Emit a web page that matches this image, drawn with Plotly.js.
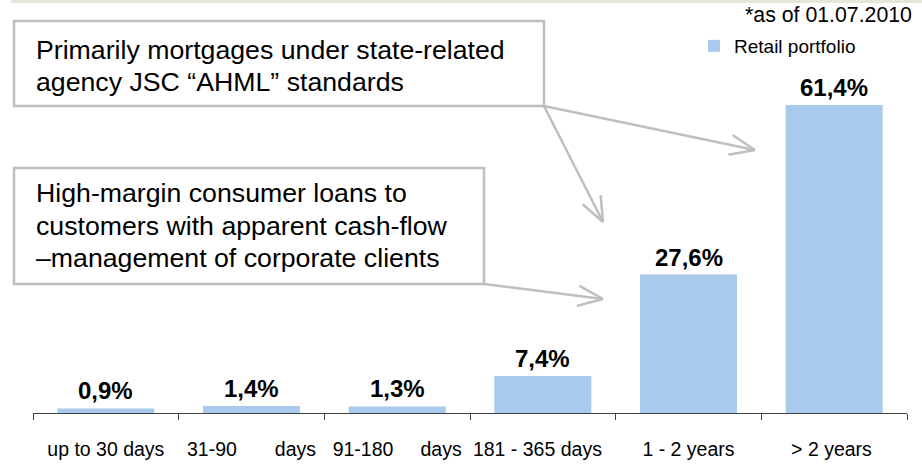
<!DOCTYPE html>
<html><head><meta charset="utf-8">
<script src="https://cdn.plot.ly/plotly-3.0.1.min.js"></script>
<style>html,body{margin:0;padding:0;background:#fff}#chart{width:922px;height:466px}</style>
</head><body><div id="chart"></div>
<script>
const NB = '\u00A0';
const categories = ['up to 30 days','31-90 days','91-180 days','181 - 365 days','1 - 2 years','> 2 years'];
const tickLabels = ['up to 30 days','31-90'+NB.repeat(7)+'days','91-180'+NB.repeat(5)+'days','181 - 365 days'+NB.repeat(2),'1 - 2 years','> 2 years'+NB];
const values = [0.9, 1.4, 1.3, 7.4, 27.6, 61.4];
const seriesName = 'Retail portfolio';
const dateNote = '*as of 01.07.2010';
const box1Lines = ['Primarily mortgages under state-related','agency JSC \u201CAHML\u201D standards'];
const box2Lines = ['High-margin consumer loans to','customers with apparent cash-flow','\u2013management of corporate clients'];

const FONT = 'Liberation Sans, Arial, sans-serif';
const M = {l:33, r:15, t:40, b:53};
const PW = 922 - M.l - M.r, PH = 466 - M.t - M.b;
const px = x => (x - M.l) / PW;
const py = y => (466 - M.b - y) / PH;
const GRAY = '#bfbfbf';

const shapes = [];
// top band
shapes.push({type:'rect', xref:'paper', yref:'paper', x0:px(11), x1:px(922), y0:py(0), y1:py(3), fillcolor:'#e6e6da', line:{width:0}, layer:'above'});
// boxes
function box(x0,y0,x1,y1){shapes.push({type:'rect', xref:'paper', yref:'paper', x0:px(x0), x1:px(x1), y0:py(y1), y1:py(y0), line:{color:GRAY, width:2.5}, fillcolor:'rgba(255,255,255,0)'});}
box(14,21,544,106);
box(14,168,484,284);
function arrow(x0,y0,x1,y1){
  shapes.push({type:'line', xref:'paper', yref:'paper', x0:px(x0), y0:py(y0), x1:px(x1), y1:py(y1), line:{color:GRAY, width:2.5}});
  const th = Math.atan2(y1-y0, x1-x0), phi = 22*Math.PI/180, L = 27;
  [th+phi, th-phi].forEach(a => {
    shapes.push({type:'line', xref:'paper', yref:'paper', x0:px(x1), y0:py(y1), x1:px(x1 - L*Math.cos(a)), y1:py(y1 - L*Math.sin(a)), line:{color:GRAY, width:2.5}});
  });
}
arrow(544,106,755,150);
arrow(544,106,603,222);
arrow(484,284,603,299);

const annotations = [];
values.forEach((v,i) => {
  annotations.push({xref:'x', yref:'y', x:categories[i], y:v, yanchor:'bottom', yshift:2, showarrow:false,
    text:'<b>'+v.toFixed(1).replace('.',',')+'%</b>', font:{family:FONT, size:24, color:'#000'}});
});
const box1Y = [50, 82], box2Y = [193, 226, 258];
box1Lines.forEach((t,i) => annotations.push({xref:'paper', yref:'paper', x:px(34), y:py(box1Y[i]), xanchor:'left', yanchor:'middle', showarrow:false, text:t, font:{family:FONT, size:26.7, color:'#000'}}));
box2Lines.forEach((t,i) => annotations.push({xref:'paper', yref:'paper', x:px(34), y:py(box2Y[i]), xanchor:'left', yanchor:'middle', showarrow:false, text:t, font:{family:FONT, size:26.7, color:'#000'}}));
annotations.push({xref:'paper', yref:'paper', x:px(914), y:py(14.5), xanchor:'right', yanchor:'middle', showarrow:false, text:dateNote, font:{family:FONT, size:21.3, color:'#000'}});

const trace = {type:'bar', x:categories, y:values, name:seriesName, marker:{color:'#a9c9ed'}, showlegend:true, hoverinfo:'skip'};

const layout = {
  width:922, height:466, margin:M, paper_bgcolor:'#fff', plot_bgcolor:'#fff',
  bargap:0.334, showlegend:true,
  font:{family:FONT, color:'#000'},
  legend:{x:px(694), xanchor:'left', y:py(46), yanchor:'middle', font:{family:FONT, size:19, color:'#000'}, bgcolor:'rgba(0,0,0,0)', itemwidth:30, borderwidth:0},
  xaxis:{type:'category', tickvals:categories, ticktext:tickLabels, tickson:'boundaries', ticks:'outside', ticklen:6, tickcolor:'#404040',
    ticklabelstandoff:19, tickangle:0,
    showline:true, linecolor:'#404040', linewidth:1, showgrid:false, zeroline:false, tickfont:{family:FONT, size:19.5, color:'#000'}, fixedrange:true},
  yaxis:{range:[0, 74.36], visible:false, showgrid:false, zeroline:false, fixedrange:true},
  shapes:shapes, annotations:annotations
};
Plotly.newPlot('chart', [trace], layout, {displayModeBar:false, staticPlot:true});
</script></body></html>
